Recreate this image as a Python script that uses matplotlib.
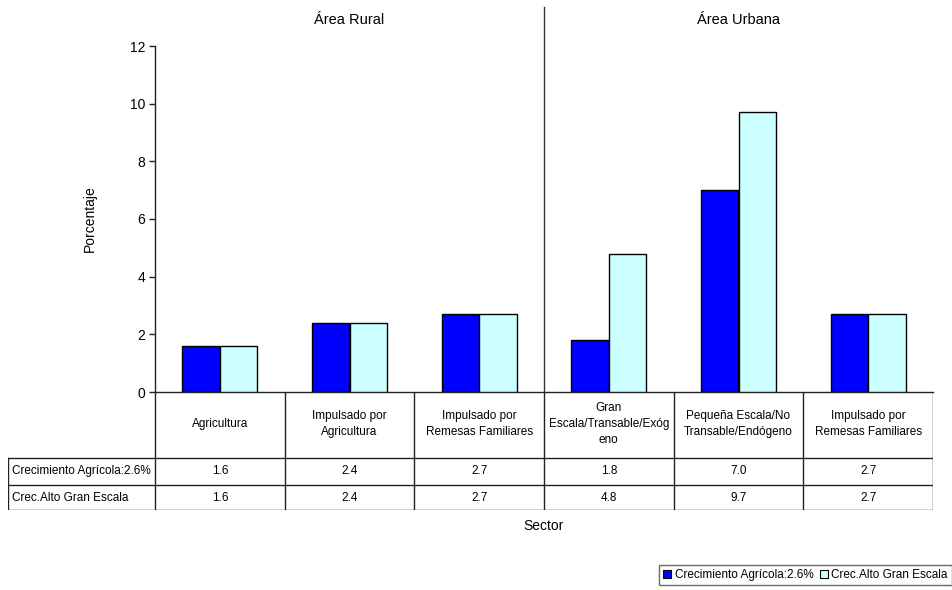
import matplotlib
matplotlib.use("Agg")
import matplotlib.pyplot as plt
from matplotlib.patches import Rectangle

plt.rcParams['font.family'] = ['Liberation Sans', 'DejaVu Sans']

# ---- data ----
sectors = [
    "Agricultura",
    "Impulsado por\nAgricultura",
    "Impulsado por\nRemesas Familiares",
    "Gran\nEscala/Transable/Exóg\neno",
    "Pequeña Escala/No\nTransable/Endógeno",
    "Impulsado por\nRemesas Familiares",
]
series_names = ["Crecimiento Agrícola:2.6%", "Crec.Alto Gran Escala"]
crec_agricola = [1.6, 2.4, 2.7, 1.8, 7.0, 2.7]
crec_alto = [1.6, 2.4, 2.7, 4.8, 9.7, 2.7]
areas = ["Área Rural", "Área Urbana"]
colors = ["#0000FF", "#CCFFFF"]

W, H = 952, 590
fig = plt.figure(figsize=(W / 100, H / 100), dpi=100)

def fx(px):
    return px / W

def fy(py):
    return 1 - py / H

# main plot area (pixel frame)
L, R, T, B = 155, 933, 46, 392
ax = fig.add_axes([fx(L), fy(B), fx(R - L), (B - T) / H])
n = len(sectors)
ax.set_xlim(-0.5, n - 0.5)
ax.set_ylim(0, 12)

bw = 0.288
xs = list(range(n))
ax.bar([x - bw / 2 for x in xs], crec_agricola, width=bw, color=colors[0],
       edgecolor="black", linewidth=1.0, zorder=3)
ax.bar([x + bw / 2 for x in xs], crec_alto, width=bw, color=colors[1],
       edgecolor="black", linewidth=1.0, zorder=3)

for s in ["top", "right"]:
    ax.spines[s].set_visible(False)
ax.spines["left"].set_color("#222222")
ax.spines["bottom"].set_color("#222222")
ax.spines["left"].set_linewidth(1.0)
ax.spines["bottom"].set_linewidth(1.0)
ax.set_yticks(range(0, 13, 2))
ax.tick_params(axis="y", direction="out", length=4, width=1, labelsize=10,
               color="#222222", pad=3)
ax.set_xticks([])
ax.set_ylabel("Porcentaje", fontsize=10, labelpad=24)

# divider between rural and urban
ppu = (B - T) / 12.0
top_y = 12 + (T - 7) / ppu
ax.plot([2.5, 2.5], [0, top_y], color="#333333", linewidth=1.0,
        clip_on=False, zorder=4)
title_y = 12 + (T - 20) / ppu
ax.text(1.0, title_y, areas[0], ha="center", va="center", fontsize=10.5)
ax.text(4.0, title_y, areas[1], ha="center", va="center", fontsize=10.5)

# ---- data table below the plot ----
TL, TB = 8, 510
cw = (R - L) / n
tax = fig.add_axes([fx(TL), fy(TB), fx(R - TL), (TB - B) / H])
tax.set_xlim(-0.5 - (L - TL) / cw, n - 0.5)
tax.set_ylim(TB - B, 0)
tax.axis("off")

hdr_h, row_h = 66, 26.5
row1 = hdr_h
row2 = hdr_h + row_h
rowb = TB - B
lc, lw = "#222222", 1.0
x_left = -0.5 - (L - TL) / cw

# vertical lines between columns
for i in range(n + 1):
    tax.plot([i - 0.5, i - 0.5], [0, rowb], color=lc, lw=lw)
tax.plot([x_left, x_left], [row1, rowb], color=lc, lw=lw)
# horizontal lines
tax.plot([x_left, n - 0.5], [row1, row1], color=lc, lw=lw)
tax.plot([x_left, n - 0.5], [row2, row2], color=lc, lw=lw)
tax.plot([x_left, n - 0.5], [rowb, rowb], color=lc, lw=lw)

fs = 8.5
for i, lab in enumerate(sectors):
    tax.text(i, hdr_h / 2 - 1, lab, ha="center", va="center", fontsize=fs,
             linespacing=1.4)
for vals, y0, name in [(crec_agricola, row1, series_names[0]),
                       (crec_alto, row2, series_names[1])]:
    yc = y0 + row_h / 2
    tax.text(x_left + 0.03, yc, name, ha="left", va="center", fontsize=fs)
    for i, v in enumerate(vals):
        tax.text(i, yc, f"{v:.1f}", ha="center", va="center", fontsize=fs)

fig.text(fx(544), fy(526), "Sector", ha="center", va="center", fontsize=10)

# ---- legend ----
handles = [Rectangle((0, 0), 1, 1, facecolor=c, edgecolor="black", lw=0.8)
           for c in colors]
leg = fig.legend(handles, series_names, ncol=2, loc="upper left",
                 bbox_to_anchor=(fx(659), fy(565)), fontsize=fs,
                 frameon=True, fancybox=False, handlelength=0.7,
                 handleheight=0.7, handletextpad=0.3, columnspacing=0.5,
                 borderpad=0.35, borderaxespad=0.0)
leg.get_frame().set_edgecolor("#444444")
leg.get_frame().set_linewidth(1.0)

fig.savefig("out.png", dpi=100)
